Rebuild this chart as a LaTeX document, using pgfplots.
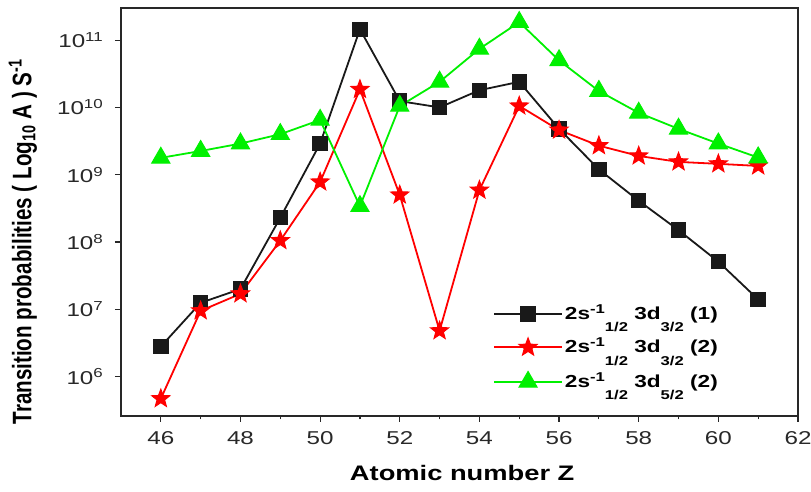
\documentclass[border=0pt]{standalone}
\usepackage{pgfplots}
\pgfplotsset{compat=1.18}
\usepackage{fontspec}
\setmainfont{Liberation Sans}
\usepackage{graphicx}
\newcommand\hs[1]{\scalebox{1.3}[1]{#1}}
\newcommand\sps[1]{\smash{\raisebox{6pt}{\fontsize{12.8}{12.8}\selectfont #1}}}
\newcommand\sbs[1]{\smash{\raisebox{-12.5pt}{\fontsize{12.8}{12.8}\selectfont #1}}}
\definecolor{axgray}{RGB}{40,40,40}
\definecolor{mygreen}{RGB}{0,240,0}
\definecolor{myred}{RGB}{255,0,0}
\pgfdeclareplotmark{fstar}{%
 \pgfpathmoveto{\pgfpointpolar{90}{\pgfplotmarksize}}%
 \pgfpathlineto{\pgfpointpolar{126}{0.42\pgfplotmarksize}}%
 \pgfpathlineto{\pgfpointpolar{162}{\pgfplotmarksize}}%
 \pgfpathlineto{\pgfpointpolar{198}{0.42\pgfplotmarksize}}%
 \pgfpathlineto{\pgfpointpolar{234}{\pgfplotmarksize}}%
 \pgfpathlineto{\pgfpointpolar{270}{0.42\pgfplotmarksize}}%
 \pgfpathlineto{\pgfpointpolar{306}{\pgfplotmarksize}}%
 \pgfpathlineto{\pgfpointpolar{342}{0.42\pgfplotmarksize}}%
 \pgfpathlineto{\pgfpointpolar{18}{\pgfplotmarksize}}%
 \pgfpathlineto{\pgfpointpolar{54}{0.42\pgfplotmarksize}}%
 \pgfpathclose
 \pgfusepathqfillstroke}
\begin{document}
\begin{tikzpicture}
\begin{axis}[
 name=ax,
 scale only axis, width=677pt, height=408pt,
 xmin=45, xmax=62, ymode=log, log basis y=10, ymin=2.6e5, ymax=3e11,
 xtick={46,48,...,62}, minor x tick num=1,
 ytick={1e6,1e7,1e8,1e9,1e10,1e11},
 tick align=outside, xtick pos=left, ytick pos=left,
 major tick length=6pt, minor tick length=3.5pt,
 axis line style={axgray, line width=1.8pt},
 tick style={axgray, line width=1.2pt},
 /pgf/number format/assume math mode=true,
 tick label style={font=\fontsize{18.6}{22}\selectfont, text=axgray},
 xticklabel={\hs{\pgfmathprintnumber{\tick}}},
 yticklabel={\hs{10\textsuperscript{\pgfmathprintnumber[fixed,precision=0]{\tick}}}},
 xticklabel style={yshift=-6pt},
 yticklabel style={xshift=-8pt},
 xlabel={\hs{Atomic number Z}},
 xlabel style={font=\fontsize{21}{24}\selectfont\bfseries, at={(axis description cs:0.504,0)}, anchor=north, yshift=-46pt},
 ylabel={\scalebox{1}[1.3]{Transition probabilities ( Log\textsubscript{10} A ) S\textsuperscript{-1}}},
 ylabel style={font=\fontsize{20.6}{24}\selectfont\bfseries, at={(axis description cs:-0.145,0.427)}, anchor=center},
 legend style={at={(rel axis cs:0.545,0.278)}, anchor=north west, draw=none, fill=none,
   font=\fontsize{17.4}{20}\selectfont\bfseries, row sep=15pt},
 legend cell align=left,
 legend image code/.code={\draw[mark repeat=2,mark phase=2] plot coordinates {(0pt,0pt)(34pt,0pt)(68pt,0pt)};},
]
\addplot[black!90, line width=1.8pt, mark=square*, mark size=7.2pt, mark options={solid, line width=1pt, fill=black!90}] coordinates {
(46,2.8e6)(47,1.25e7)(48,2.0e7)(49,2.3e8)(50,2.9e9)(51,1.45e11)(52,1.24e10)(53,1.0e10)
(54,1.8e10)(55,2.4e10)(56,4.8e9)(57,1.2e9)(58,4.1e8)(59,1.5e8)(60,5.1e7)(61,1.4e7)};
\addlegendentry{\hs{2s\sps{-1}\sbs{1/2} 3d\sbs{3/2} (1)}}
\addplot[myred, line width=1.8pt, mark=fstar, mark size=9.5pt, mark options={solid, line width=1pt, fill=myred}] coordinates {
(46,4.7e5)(47,9.5e6)(48,1.7e7)(49,1.05e8)(50,7.8e8)(51,1.85e10)(52,5.0e8)(53,4.8e6)
(54,5.9e8)(55,1.05e10)(56,4.6e9)(57,2.7e9)(58,1.9e9)(59,1.55e9)(60,1.45e9)(61,1.35e9)};
\addlegendentry{\hs{2s\sps{-1}\sbs{1/2} 3d\sbs{3/2} (2)}}
\addplot[mygreen, line width=1.8pt, mark=triangle*, mark size=10.5pt, mark options={solid, line width=1pt, fill=mygreen}] coordinates {
(46,1.78e9)(47,2.25e9)(48,2.9e9)(49,4.0e9)(50,6.5e9)(51,3.4e8)(52,1.05e10)(53,2.4e10)
(54,7.4e10)(55,1.85e11)(56,5.0e10)(57,1.75e10)(58,8.3e9)(59,4.8e9)(60,2.9e9)(61,1.8e9)};
\addlegendentry{\hs{2s\sps{-1}\sbs{1/2} 3d\sbs{5/2} (2)}}
\end{axis}
\pgfresetboundingbox
\path[use as bounding box] ([shift={(-121pt,-76pt)}]ax.south west) rectangle ([shift={(13pt,8pt)}]ax.north east);
\end{tikzpicture}
\end{document}
